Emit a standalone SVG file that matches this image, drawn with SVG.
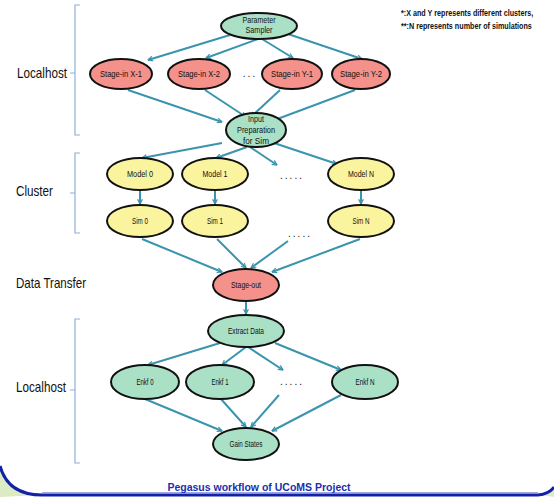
<svg xmlns="http://www.w3.org/2000/svg" width="554" height="497" viewBox="0 0 554 497">
  <defs>
    <marker id="arrow" viewBox="0 0 10 10" refX="9" refY="5" markerWidth="6" markerHeight="6" orient="auto" markerUnits="userSpaceOnUse">
      <path d="M1,1 L9,5 L1,9" fill="none" stroke="#3a94ae" stroke-width="2"/>
    </marker>
    <style>
      .edge { fill: none; stroke: #3a94ae; stroke-width: 2; marker-end: url(#arrow); }
      .node ellipse { stroke: #111; stroke-width: 2; }
      .green { fill: #a9e0c6; }
      .red { fill: #f4918b; }
      .yellow { fill: #fbf49e; }
      .node text { font-family: "Liberation Sans", Arial, sans-serif; font-size: 8.5px; fill: #111; text-anchor: middle; }
      .lane { font-family: "Liberation Sans", Arial, sans-serif; font-size: 14.5px; fill: #111; }
      .brace { fill: none; stroke: #8fb0d6; stroke-width: 1.2; }
      .dots { font-family: "Liberation Sans", Arial, sans-serif; font-size: 10px; fill: #111; letter-spacing: 2px; text-anchor: middle; }
      .note { font-family: "Liberation Sans", Arial, sans-serif; font-size: 9px; font-weight: bold; fill: #111; }
      .title { font-family: "Liberation Sans", Arial, sans-serif; font-size: 10.5px; font-weight: bold; fill: #1a2fb0; text-anchor: middle; }
    </style>
  </defs>

  <rect width="554" height="497" fill="#ffffff"/>

  <!-- slide frame at the bottom -->
  <path d="M0,466 Q8,495 42,495 L0,497 Z" fill="#dcebc4"/>
  <path d="M540,495 Q549,494 554,488 L554,497 Z" fill="#dcebc4"/>
  <path d="M0,466 Q8,495 42,495 L538,495 Q549,494 554,487" fill="none" stroke="#1420a8" stroke-width="3"/>
  <line x1="42" y1="492.5" x2="538" y2="492.5" stroke="#9aa6dc" stroke-width="1"/>

  <!-- lane labels and braces -->
  <text class="lane" x="17" y="78" textLength="50" lengthAdjust="spacingAndGlyphs">Localhost</text>
  <path class="brace" d="M80,5 L75,5 L75,135 L80,135 M75,73 L70,73"/>
  <text class="lane" x="16" y="196" textLength="37" lengthAdjust="spacingAndGlyphs">Cluster</text>
  <path class="brace" d="M80,153 L75,153 L75,233 L80,233 M75,193 L70,193"/>
  <text class="lane" x="16" y="288" textLength="70" lengthAdjust="spacingAndGlyphs">Data Transfer</text>
  <text class="lane" x="16" y="392" textLength="50" lengthAdjust="spacingAndGlyphs">Localhost</text>
  <path class="brace" d="M80,319 L75,319 L75,463 L80,463 M75,390 L70,390"/>

  <!-- notes (condensed horizontally) -->
  <text class="note" transform="translate(401,16) scale(0.8,1)">*:X and Y represents different clusters,</text>
  <text class="note" transform="translate(401,29) scale(0.8,1)">**:N represents number of simulations</text>

  <!-- connectors -->
  <g id="connectors">
    <path class="edge" d="M230,35 L148,60"/>
    <path class="edge" d="M258,39 L206,58"/>
    <path class="edge" d="M262,39 L293,58"/>
    <path class="edge" d="M288,34 L362,59"/>

    <path class="edge" d="M128,90 L222,122"/>
    <path class="edge" d="M205,90 L246,117"/>
    <path class="edge" d="M280,90 L251,117"/>
    <path class="edge" d="M355,90 L272,121"/>

    <path class="edge" d="M222,143 L142,158"/>
    <path class="edge" d="M247,147 L216,158"/>
    <path class="edge" d="M250,147 L277,165"/>
    <path class="edge" d="M271,142 L337,164"/>

    <path class="edge" d="M140,190 L140,204"/>
    <path class="edge" d="M215,190 L215,204"/>
    <path class="edge" d="M361,190 L361,204"/>

    <path class="edge" d="M142,239 L222,272"/>
    <path class="edge" d="M217,239 L246,268"/>
    <path class="edge" d="M288,241 L251,268"/>
    <path class="edge" d="M360,239 L272,272"/>

    <path class="edge" d="M246,301 L246,314"/>

    <path class="edge" d="M220,343 L148,365"/>
    <path class="edge" d="M246,347 L222,365"/>
    <path class="edge" d="M248,347 L283,370"/>
    <path class="edge" d="M275,343 L341,370"/>

    <path class="edge" d="M145,399 L222,431"/>
    <path class="edge" d="M221,399 L246,427"/>
    <path class="edge" d="M279,395 L251,427"/>
    <path class="edge" d="M341,395 L272,431"/>
  </g>

  <!-- ellipsis markers -->
  <text class="dots" x="250" y="77">...</text>
  <text class="dots" x="292" y="179">.....</text>
  <text class="dots" x="300" y="237">.....</text>
  <text class="dots" x="292" y="385">.....</text>

  <!-- nodes -->
  <g id="parameter-sampler" class="node">
    <ellipse class="green" cx="259" cy="26" rx="38" ry="13"/>
    <text x="259" y="23" textLength="33" lengthAdjust="spacingAndGlyphs">Parameter</text>
    <text x="259" y="33" textLength="27" lengthAdjust="spacingAndGlyphs">Sampler</text>
  </g>
  <g id="stage-in-x1" class="node">
    <ellipse class="red" cx="121" cy="74" rx="31" ry="15"/>
    <text x="121" y="77" textLength="42" lengthAdjust="spacingAndGlyphs">Stage-in X-1</text>
  </g>
  <g id="stage-in-x2" class="node">
    <ellipse class="red" cx="199" cy="74" rx="31" ry="15"/>
    <text x="199" y="77" textLength="42" lengthAdjust="spacingAndGlyphs">Stage-in X-2</text>
  </g>
  <g id="stage-in-y1" class="node">
    <ellipse class="red" cx="292" cy="74" rx="30" ry="15"/>
    <text x="292" y="77" textLength="42" lengthAdjust="spacingAndGlyphs">Stage-in Y-1</text>
  </g>
  <g id="stage-in-y2" class="node">
    <ellipse class="red" cx="361" cy="74" rx="29" ry="15"/>
    <text x="361" y="77" textLength="42" lengthAdjust="spacingAndGlyphs">Stage-in Y-2</text>
  </g>
  <g id="input-preparation" class="node">
    <ellipse class="green" cx="256" cy="130" rx="30" ry="17"/>
    <text x="256" y="122" textLength="16" lengthAdjust="spacingAndGlyphs">Input</text>
    <text x="256" y="133" textLength="38" lengthAdjust="spacingAndGlyphs">Preparation</text>
    <text x="256" y="144" textLength="26" lengthAdjust="spacingAndGlyphs">for Sim</text>
  </g>
  <g id="model-0" class="node">
    <ellipse class="yellow" cx="140" cy="174" rx="33" ry="16"/>
    <text x="140" y="177" textLength="26" lengthAdjust="spacingAndGlyphs">Model 0</text>
  </g>
  <g id="model-1" class="node">
    <ellipse class="yellow" cx="215" cy="174" rx="33" ry="16"/>
    <text x="215" y="177" textLength="25" lengthAdjust="spacingAndGlyphs">Model 1</text>
  </g>
  <g id="model-n" class="node">
    <ellipse class="yellow" cx="361" cy="174" rx="33" ry="16"/>
    <text x="361" y="177" textLength="26" lengthAdjust="spacingAndGlyphs">Model N</text>
  </g>
  <g id="sim-0" class="node">
    <ellipse class="yellow" cx="140" cy="221" rx="33" ry="16"/>
    <text x="140" y="224" textLength="16" lengthAdjust="spacingAndGlyphs">Sim 0</text>
  </g>
  <g id="sim-1" class="node">
    <ellipse class="yellow" cx="215" cy="221" rx="33" ry="16"/>
    <text x="215" y="224" textLength="16" lengthAdjust="spacingAndGlyphs">Sim 1</text>
  </g>
  <g id="sim-n" class="node">
    <ellipse class="yellow" cx="361" cy="221" rx="33" ry="16"/>
    <text x="361" y="224" textLength="17" lengthAdjust="spacingAndGlyphs">Sim N</text>
  </g>
  <g id="stage-out" class="node">
    <ellipse class="red" cx="246" cy="285" rx="33" ry="16"/>
    <text x="246" y="288" textLength="30" lengthAdjust="spacingAndGlyphs">Stage-out</text>
  </g>
  <g id="extract-data" class="node">
    <ellipse class="green" cx="246" cy="331" rx="38" ry="16"/>
    <text x="246" y="334" textLength="36" lengthAdjust="spacingAndGlyphs">Extract Data</text>
  </g>
  <g id="enkf-0" class="node">
    <ellipse class="green" cx="145" cy="382" rx="34" ry="17"/>
    <text x="145" y="385" textLength="17" lengthAdjust="spacingAndGlyphs">Enkf 0</text>
  </g>
  <g id="enkf-1" class="node">
    <ellipse class="green" cx="220" cy="382" rx="34" ry="17"/>
    <text x="220" y="385" textLength="17" lengthAdjust="spacingAndGlyphs">Enkf 1</text>
  </g>
  <g id="enkf-n" class="node">
    <ellipse class="green" cx="365" cy="382" rx="33" ry="17"/>
    <text x="365" y="385" textLength="19" lengthAdjust="spacingAndGlyphs">Enkf N</text>
  </g>
  <g id="gain-states" class="node">
    <ellipse class="green" cx="246" cy="444" rx="33" ry="16"/>
    <text x="246" y="447" textLength="33" lengthAdjust="spacingAndGlyphs">Gain States</text>
  </g>

  <text class="title" x="259" y="491">Pegasus workflow of UCoMS Project</text>
</svg>
